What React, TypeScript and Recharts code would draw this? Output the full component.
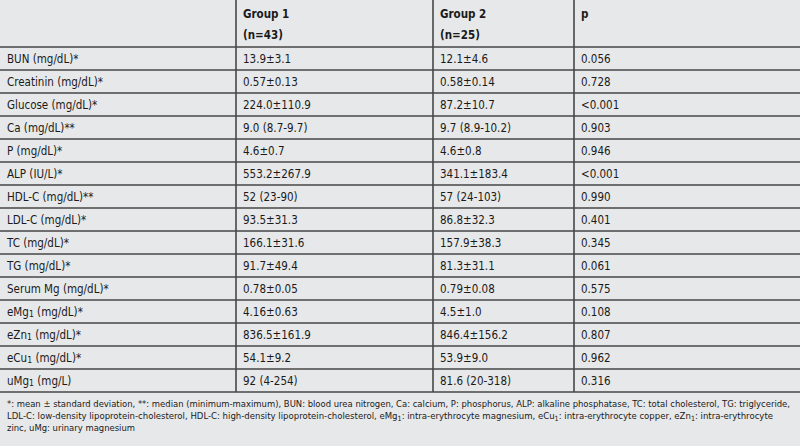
import React from "react";
import { Surface, Layer } from "recharts";

const headerTop = ["", "Group 1", "Group 2", "p"];
const headerBottom = ["", "(n=43)", "(n=25)", ""];

const rowLabels = [
  "BUN (mg/dL)*",
  "Creatinin (mg/dL)*",
  "Glucose (mg/dL)*",
  "Ca (mg/dL)**",
  "P (mg/dL)*",
  "ALP (IU/L)*",
  "HDL-C (mg/dL)**",
  "LDL-C (mg/dL)*",
  "TC (mg/dL)*",
  "TG (mg/dL)*",
  "Serum Mg (mg/dL)*",
  "eMg_1 (mg/dL)*",
  "eZn_1 (mg/dL)*",
  "eCu_1 (mg/dL)*",
  "uMg_1 (mg/L)",
];

const group1 = [
  "13.9±3.1", "0.57±0.13", "224.0±110.9", "9.0 (8.7-9.7)", "4.6±0.7", "553.2±267.9",
  "52 (23-90)", "93.5±31.3", "166.1±31.6", "91.7±49.4", "0.78±0.05", "4.16±0.63",
  "836.5±161.9", "54.1±9.2", "92 (4-254)",
];

const group2 = [
  "12.1±4.6", "0.58±0.14", "87.2±10.7", "9.7 (8.9-10.2)", "4.6±0.8", "341.1±183.4",
  "57 (24-103)", "86.8±32.3", "157.9±38.3", "81.3±31.1", "0.79±0.08", "4.5±1.0",
  "846.4±156.2", "53.9±9.0", "81.6 (20-318)",
];

const pValues = [
  "0.056", "0.728", "<0.001", "0.903", "0.946", "<0.001", "0.990", "0.401",
  "0.345", "0.061", "0.575", "0.108", "0.807", "0.962", "0.316",
];

const footnotes = [
  "*: mean ± standard deviation, **: median (minimum-maximum), BUN: blood urea nitrogen, Ca: calcium, P: phosphorus, ALP: alkaline phosphatase, TC: total cholesterol, TG: triglyceride,",
  "LDL-C: low-density lipoprotein-cholesterol, HDL-C: high-density lipoprotein-cholesterol, eMg_1: intra-erythrocyte magnesium, eCu_1: intra-erythrocyte copper, eZn_1: intra-erythrocyte",
  "zinc, uMg: urinary magnesium",
];
// measured line widths of the footnote in the source
const footnoteWidths = [783, 766, 128];

const W = 800;
const H = 446;
const colX = [0, 236, 433, 574];
const pad = 7;
const headerH = 47;
const rowH = 23;
const FONT = "'Liberation Sans Narrow', 'DejaVu Sans Condensed', 'Roboto Condensed', sans-serif";
const BG = "#e7e8e9";
const LINE = "#474747";
const INK = "#1a1a1a";

// split "eMg_1 (..)" into normal + subscript pieces
function renderRich(s: string) {
  const parts = s.split(/_(\d)/);
  return parts.map((p, i) =>
    i % 2 === 1 ? (
      <tspan key={i} dy={2.5} fontSize="0.75em">{p}</tspan>
    ) : (
      <tspan key={i} dy={i > 0 ? -2.5 : 0}>{p}</tspan>
    )
  );
}

export default function App() {
  const tableBottom = headerH + rowH * rowLabels.length;
  const columns = [rowLabels, group1, group2, pValues];

  return (
    <div style={{ position: "absolute", left: 0, top: 0, width: W, height: H, background: BG }}>
      <Surface width={W} height={H} viewBox={{ x: 0, y: 0, width: W, height: H }}>
        <rect x={0} y={0} width={W} height={H} fill={BG} />

        <Layer className="header">
          {headerTop.map((t, c) => (
            <text key={"ht" + c} x={colX[c] + pad} y={14} dominantBaseline="central"
              fontFamily={FONT} fontSize={11.5} fontWeight={700} fill={INK}>{t}</text>
          ))}
          {headerBottom.map((t, c) => (
            <text key={"hb" + c} x={colX[c] + pad} y={35} dominantBaseline="central"
              fontFamily={FONT} fontSize={11.5} fontWeight={700} fill={INK}>{t}</text>
          ))}
        </Layer>

        <Layer className="body">
          {rowLabels.map((_, r) =>
            columns.map((col, c) => (
              <text key={r + "-" + c} x={colX[c] + pad} y={headerH + rowH * r + rowH / 2}
                dominantBaseline="central" fontFamily={FONT} fontSize={11.5} fill={INK}>
                {renderRich(col[r])}
              </text>
            ))
          )}
        </Layer>

        <Layer className="grid">
          {[headerH, ...rowLabels.map((_, r) => headerH + rowH * (r + 1))].map((y, i) => (
            <line key={"h" + i} x1={0} x2={W} y1={y} y2={y} stroke={LINE} strokeWidth={1.6} />
          ))}
          {colX.slice(1).map((x, i) => (
            <line key={"v" + i} x1={x} x2={x} y1={0} y2={tableBottom} stroke={LINE} strokeWidth={1.6} />
          ))}
        </Layer>

        <Layer className="notes">
          {footnotes.map((t, i) => (
            <text key={"f" + i} x={pad} y={tableBottom + 11 + i * 12} dominantBaseline="central"
              fontFamily={FONT} fontSize={9.4} fill={INK}
              textLength={footnoteWidths[i]} lengthAdjust="spacingAndGlyphs">
              {renderRich(t)}
            </text>
          ))}
        </Layer>
      </Surface>
    </div>
  );
}
